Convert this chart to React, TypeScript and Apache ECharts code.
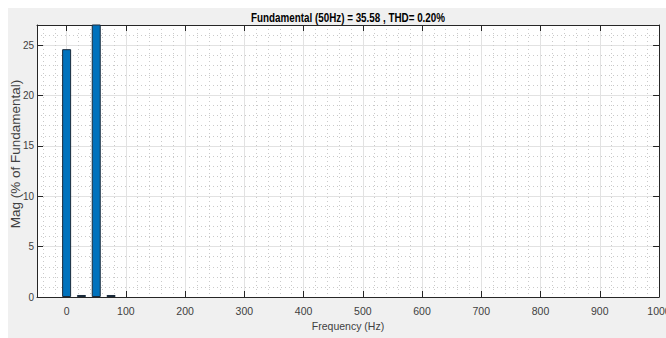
import React, { useEffect, useRef } from "react";
import * as echarts from "echarts";

// ---- data ----
const freqHz = [0, 25, 50, 75];
const magPct = [24.6, 0.2, 100, 0.2];
const xTickValues = [0, 100, 200, 300, 400, 500, 600, 700, 800, 900, 1000];
const yTickValues = [0, 5, 10, 15, 20, 25];
const titleText = "Fundamental (50Hz) = 35.58 , THD= 0.20%";
const xAxisName = "Frequency (Hz)";
const yAxisName = "Mag (% of Fundamental)";

const X_MIN = -50;
const X_MAX = 1000;
const Y_MIN = 0;
const Y_MAX = 27;

const xMinorValues: number[] = [];
for (let v = -40; v <= X_MAX; v += 20) xMinorValues.push(v);

const SANS = "'Liberation Sans', Arial, sans-serif";
const AXIS_COLOR = "#262626";
const TEXT_COLOR = "#404040";
const MAJOR_GRID = "#e2e2e2";
const MINOR_GRID = "#cacaca";

export default function App() {
  const ref = useRef<HTMLDivElement>(null);

  useEffect(() => {
    if (!ref.current) return;
    const chart = echarts.init(ref.current, undefined, { renderer: "svg" });

    const plain = (v: number) => String(v);

    const option: any = {
      animation: false,
      backgroundColor: "#f0f0f0",
      graphic: [
        {
          type: "text",
          x: 340,
          y: 4,
          scaleX: 0.82,
          style: {
            text: titleText,
            fontFamily: SANS,
            fontSize: 12,
            fontWeight: "bold",
            fill: "#000",
            textAlign: "center",
            textVerticalAlign: "top",
          },
        },
      ],
      grid: {
        left: 29,
        top: 17,
        right: 7,
        bottom: 41,
        containLabel: false,
        outerBoundsMode: "none",
        show: true,
        backgroundColor: "#ffffff",
        borderWidth: 0,
      },
      xAxis: [
        {
          // minor grid
          type: "value",
          min: X_MIN,
          max: X_MAX,
          position: "bottom",
          axisLine: { show: false },
          axisTick: { show: false, customValues: xMinorValues },
          axisLabel: { show: false },
          splitLine: {
            show: true,
            lineStyle: { color: MINOR_GRID, width: 1, type: [1, 3] },
          },
        },
        {
          type: "value",
          min: X_MIN,
          max: X_MAX,
          position: "bottom",
          name: xAxisName,
          nameLocation: "middle",
          nameGap: 23,
          nameMoveOverlap: false,
          nameTextStyle: { fontFamily: SANS, fontSize: 10.5, color: TEXT_COLOR },
          axisLine: { show: true, onZero: false, lineStyle: { color: AXIS_COLOR, width: 1 } },
          axisTick: {
            show: true,
            inside: true,
            length: 6,
            customValues: xTickValues,
            lineStyle: { color: AXIS_COLOR },
          },
          axisLabel: {
            show: true,
            customValues: xTickValues,
            formatter: plain,
            margin: 8,
            fontFamily: SANS,
            fontSize: 10.5,
            color: TEXT_COLOR,
          },
          splitLine: { show: true, lineStyle: { color: MAJOR_GRID, width: 1 } },
        },
        {
          type: "value",
          min: X_MIN,
          max: X_MAX,
          position: "top",
          axisLine: { show: true, onZero: false, lineStyle: { color: AXIS_COLOR, width: 1 } },
          axisTick: {
            show: true,
            inside: true,
            length: 6,
            customValues: xTickValues,
            lineStyle: { color: AXIS_COLOR },
          },
          axisLabel: { show: false },
          splitLine: { show: false },
        },
      ],
      yAxis: [
        {
          // minor grid
          type: "value",
          min: Y_MIN,
          max: Y_MAX,
          interval: 1,
          position: "left",
          axisLine: { show: false },
          axisTick: { show: false },
          axisLabel: { show: false },
          splitLine: {
            show: true,
            lineStyle: { color: MINOR_GRID, width: 1, type: [1, 3] },
          },
        },
        {
          type: "value",
          min: Y_MIN,
          max: Y_MAX,
          position: "left",
          name: yAxisName,
          nameLocation: "middle",
          nameGap: 15,
          nameMoveOverlap: false,
          nameTextStyle: {
            fontFamily: SANS,
            fontSize: 13.5,
            color: TEXT_COLOR,
            padding: [0, 0, 0, 14],
          },
          axisLine: { show: true, onZero: false, lineStyle: { color: AXIS_COLOR, width: 1 } },
          axisTick: {
            show: true,
            inside: true,
            length: 6,
            customValues: yTickValues,
            lineStyle: { color: AXIS_COLOR },
          },
          axisLabel: {
            show: true,
            customValues: yTickValues,
            formatter: plain,
            margin: 3,
            fontFamily: SANS,
            fontSize: 10,
            color: TEXT_COLOR,
          },
          splitLine: { show: true, lineStyle: { color: MAJOR_GRID, width: 1 } },
        },
        {
          type: "value",
          min: Y_MIN,
          max: Y_MAX,
          position: "right",
          axisLine: { show: true, onZero: false, lineStyle: { color: AXIS_COLOR, width: 1 } },
          axisTick: {
            show: true,
            inside: true,
            length: 6,
            customValues: yTickValues,
            lineStyle: { color: AXIS_COLOR },
          },
          axisLabel: { show: false },
          splitLine: { show: false },
        },
      ],
      series: [
        {
          type: "bar",
          xAxisIndex: 1,
          yAxisIndex: 1,
          barWidth: 9,
          clip: true,
          data: freqHz.map((f, i) => [f, magPct[i]]),
          itemStyle: {
            color: "#0072BD",
            borderColor: "#1a2a3a",
            borderWidth: 1,
          },
        },
      ],
    };

    chart.setOption(option);
    return () => chart.dispose();
  }, []);

  return (
    <div
      ref={ref}
      style={{ position: "absolute", left: 8, top: 8, width: 658, height: 330 }}
    />
  );
}
